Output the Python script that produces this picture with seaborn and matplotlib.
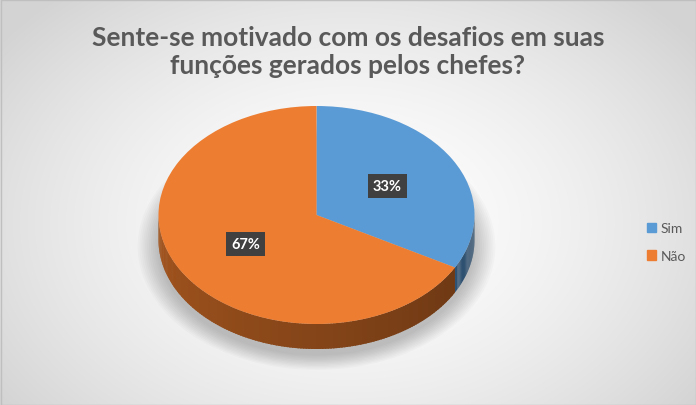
import numpy as np
import seaborn as sns
import matplotlib.pyplot as plt
from matplotlib.colors import to_rgb
from matplotlib.patches import Patch, Polygon, Ellipse, Rectangle

labels = ["Sim", "Não"]
values = [33, 67]
colors = ["#5b9bd5", "#ed7d31"]
side_colors = ["#3d6b96", "#8f4a1a"]
title = "Sente-se motivado com os desafios em suas\nfunções gerados pelos chefes?"

sns.set_theme(style="white")
plt.rcParams["font.family"] = ["Lato", "DejaVu Sans"]

W, H = 696, 406
fig = plt.figure(figsize=(W / 100, H / 100), dpi=100)

# background: soft radial gradient
bg = fig.add_axes([0, 0, 1, 1], zorder=-2)
yy, xx = np.mgrid[0:H, 0:W]
r = np.sqrt(((xx - W / 2) / (W * 0.62)) ** 2 + ((yy - H * 0.55) / (H * 0.75)) ** 2)
shade = 1.0 - 0.17 * np.clip(r, 0, 1) ** 1.6
bg.imshow(np.dstack([shade] * 3), aspect="auto", extent=(0, W, H, 0))
bg.add_patch(Rectangle((0.5, 0.5), W - 1, H - 1, fill=False, ec="#bfbfbf", lw=1))
bg.set_xlim(0, W)
bg.set_ylim(H, 0)
bg.axis("off")

# pie axes in units of pie radius (ellipse: 158 px wide radius, 109 px tall radius)
cx, cy, rx, ry = 316.5, 216, 158, 109
depth = 25 / ry
ax = fig.add_axes([0, 0, 1, 1], zorder=1)
ax.patch.set_alpha(0)

# soft shadow under the pie
for k in range(12):
    grow = 1.0 + 0.012 * k
    ax.add_patch(Ellipse((0.0, -depth - 0.06), 2 * grow, 2 * grow, color="black",
                         alpha=0.018, lw=0, zorder=0))

# side wall of the pie (front half only), shaded darker toward the right
bounds = np.concatenate([[0], np.cumsum(values)]) / sum(values) * 360
for i, c in enumerate(side_colors):
    seg_lo = (90 - bounds[i + 1]) % 360
    seg_hi = seg_lo + (bounds[i + 1] - bounds[i])
    base = np.array(to_rgb(c))
    for a0 in np.arange(180, 360, 1.0):
        a1 = a0 + 1.0
        lo, hi = None, None
        for off in (0, -360):
            l, h = max(a0, seg_lo + off), min(a1, seg_hi + off)
            if h > l:
                lo, hi = l, h
        if lo is None:
            continue
        hi_draw = min(hi + 0.6, seg_hi if seg_hi <= 360 else seg_hi - 360, 360)
        hi_draw = max(hi_draw, hi)
        t = np.radians([lo, hi_draw])
        f = 1.15 - 0.45 * (lo - 180) / 180
        col = np.clip(base * f, 0, 1)
        pts = [(np.cos(t[0]), np.sin(t[0])), (np.cos(t[1]), np.sin(t[1])),
               (np.cos(t[1]), np.sin(t[1]) - depth), (np.cos(t[0]), np.sin(t[0]) - depth)]
        ax.add_patch(Polygon(pts, closed=True, fc=col, ec="none", lw=0, zorder=1))

wedges, texts, autotexts = ax.pie(values, colors=colors, startangle=90, counterclock=False,
                                  autopct="%1.0f%%", pctdistance=0.52,
                                  wedgeprops=dict(linewidth=0),
                                  textprops=dict(color="white", fontsize=10.5, fontweight="bold"))
for w in wedges:
    w.set_zorder(2)
for t in autotexts:
    t.set_zorder(5)
    t.set_bbox(dict(boxstyle="square,pad=0.35", fc="#404040", ec="none"))

ax.set_aspect("auto")
ax.set_xlim(-cx / rx, (W - cx) / rx)
ax.set_ylim(-(H - cy) / ry, cy / ry)
ax.axis("off")

fig.text(0.5, 1 - 52 / H, title, ha="center", va="center", fontsize=19,
         fontweight="bold", color="#595959", linespacing=1.25)

handles = [Patch(color=c, label=l) for c, l in zip(colors, labels)]
fig.legend(handles=handles, loc="center left", bbox_to_anchor=(634 / W, 1 - 243 / H),
           frameon=False, fontsize=10, handlelength=0.7, handleheight=0.7,
           handletextpad=0.3, labelspacing=1.1, labelcolor="#595959")

fig.savefig("out.png", dpi=100)
